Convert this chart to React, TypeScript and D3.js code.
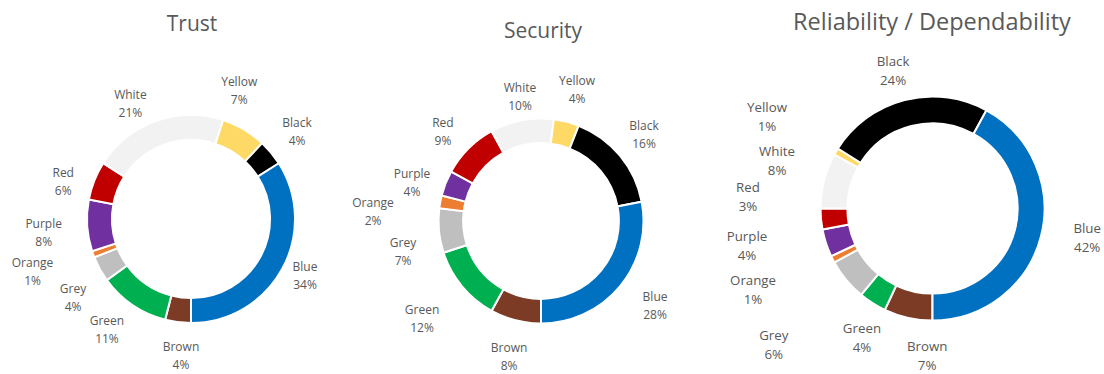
import React from 'react';
import * as d3 from 'd3';

// ---- Data ----
const categories = ['Brown', 'Green', 'Grey', 'Orange', 'Purple', 'Red', 'White', 'Yellow', 'Black', 'Blue'];
const trustValues = [4, 11, 4, 1, 8, 6, 21, 7, 4, 34];
const securityValues = [8, 12, 7, 2, 4, 9, 10, 4, 16, 28];
const reliabilityValues = [7, 4, 6, 1, 4, 3, 8, 1, 24, 42];
const chartTitles = ['Trust', 'Security', 'Reliability / Dependability'];

// ---- Styles / layout ----
const sliceColors: Record<string, string> = {
  Brown: '#7B3B25',
  Green: '#00B050',
  Grey: '#BFBFBF',
  Orange: '#ED7D31',
  Purple: '#7030A0',
  Red: '#C00000',
  White: '#F2F2F2',
  Yellow: '#FFD966',
  Black: '#000000',
  Blue: '#0070C0',
};

// label placement: [angle nudge from slice middle (deg), distance from centre (px)]
const trustLabelLayout = [[-3, 137], [3, 139], [-5, 142], [1.4, 167], [-1.8, 148], [-5.5, 133], [-8, 130], [-10, 137], [0.3, 137], [-2.2, 127.5]];
const securityLabelLayout = [[-1.2, 139.7], [0.1, 154.2], [-7.1, 141.3], [-7.7, 168.2], [-5.2, 134.5], [-2.8, 132.4], [1.2, 125.8], [1, 135.9], [-0.4, 134.5], [-3.1, 141.9]];
const reliabilityLabelLayout = [[-10.5, 147.3], [-3.8, 147.4], [-1, 209], [2.7, 196.9], [6.7, 189.2], [9, 184.9], [2.8, 162.7], [-1.5, 189.4], [-1.6, 143.1], [-3.6, 157.5]];

const chartLayouts = [
  { values: trustValues, labels: trustLabelLayout, cx: 191, cy: 219, r: 104, titleX: 192, titleY: 31, titleSize: 21, fontSize: 12, lineGap: 18 },
  { values: securityValues, labels: securityLabelLayout, cx: 541, cy: 221, r: 102.5, titleX: 543, titleY: 38, titleSize: 21, fontSize: 12, lineGap: 18 },
  { values: reliabilityValues, labels: reliabilityLabelLayout, cx: 932.5, cy: 208.5, r: 112, titleX: 932, titleY: 30, titleSize: 23.5, fontSize: 13.3, lineGap: 19 },
];

const FONT = "'Open Sans', 'Noto Sans', sans-serif";
const TEXT = '#595959';

function Donut({ idx }: { idx: number }) {
  const L = chartLayouts[idx];
  const pie = d3
    .pie<number>()
    .sort(null)
    .value((d) => d)
    .startAngle(Math.PI)
    .endAngle(3 * Math.PI);
  const arcs = pie(L.values);
  const arcGen = d3
    .arc<d3.PieArcDatum<number>>()
    .innerRadius(L.r * 0.76)
    .outerRadius(L.r);

  return (
    <g>
      <text
        x={L.titleX}
        y={L.titleY}
        textAnchor="middle"
        fontFamily={FONT}
        fontSize={L.titleSize}
        fill={TEXT}
      >
        {chartTitles[idx]}
      </text>
      <g transform={`translate(${L.cx},${L.cy})`}>
        {arcs.map((a, i) => (
          <path
            key={categories[i]}
            d={arcGen(a) || ''}
            fill={sliceColors[categories[i]]}
            stroke="#ffffff"
            strokeWidth={2}
          />
        ))}
        {arcs.map((a, i) => {
          const mid = ((a.startAngle + a.endAngle) / 2) * (180 / Math.PI);
          const [dA, dist] = L.labels[i];
          const th = ((mid + dA) * Math.PI) / 180;
          const x = dist * Math.sin(th);
          const y = -dist * Math.cos(th);
          return (
            <text
              key={'l' + categories[i]}
              x={x}
              y={y}
              textAnchor="middle"
              fontFamily={FONT}
              fontSize={L.fontSize}
              fill={TEXT}
            >
              <tspan x={x} y={y - L.lineGap / 2} dy="0.35em">
                {categories[i]}
              </tspan>
              <tspan x={x} y={y + L.lineGap / 2} dy="0.35em">
                {`${L.values[i]}%`}
              </tspan>
            </text>
          );
        })}
      </g>
    </g>
  );
}

export default function App() {
  return (
    <svg
      width={1104}
      height={374}
      style={{ position: 'absolute', left: 0, top: 0, background: '#ffffff' }}
    >
      <rect width={1104} height={374} fill="#ffffff" />
      {chartLayouts.map((_, i) => (
        <Donut key={i} idx={i} />
      ))}
    </svg>
  );
}
